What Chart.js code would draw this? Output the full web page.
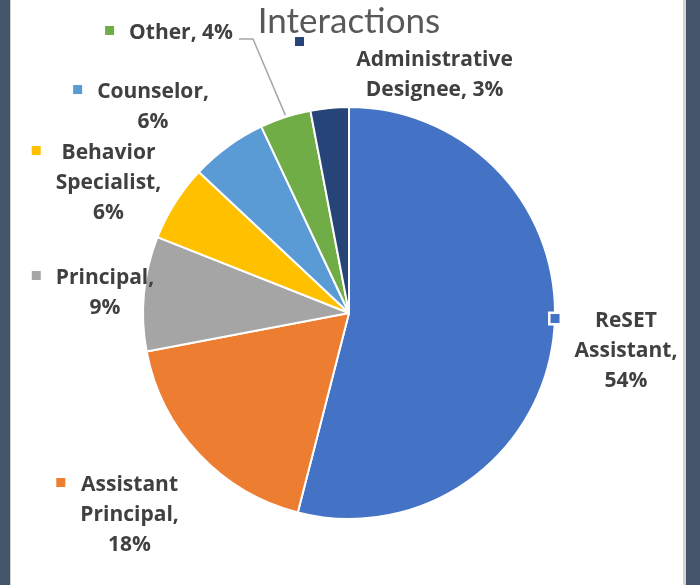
<!DOCTYPE html>
<html>
<head>
<meta charset="utf-8">
<script src="https://cdn.jsdelivr.net/npm/chart.js@4/dist/chart.umd.min.js"></script>
<style>
  html, body { margin: 0; padding: 0; background: #44546a; }
  #panel {
    position: absolute; left: 10px; top: 0; width: 676px; height: 585px;
    background: #ffffff;
    box-shadow: inset 1px 0 0 #d0d0d0, inset -3px 0 0 #d4d4d4;
  }
  canvas { display: block; }
</style>
</head>
<body>
<div id="panel"><canvas id="chart" width="676" height="585"></canvas></div>
<script>
// Who handled the interactions, as shares of the total
const categories = ['ReSET Assistant', 'Assistant Principal', 'Principal', 'Behavior Specialist', 'Counselor', 'Other', 'Administrative Designee'];
const shares = [54, 18, 9, 6, 6, 4, 3];
const sliceColors = ['#4472c4', '#ed7d31', '#a5a5a5', '#ffc000', '#5b9bd5', '#70ad47', '#264478'];

// How each category name wraps in its data label
const nameLines = [
  ['ReSET', 'Assistant'],
  ['Assistant', 'Principal'],
  ['Principal'],
  ['Behavior', 'Specialist'],
  ['Counselor'],
  ['Other'],
  ['Administrative', 'Designee']
];

// Label placement, relative to the outer edge of each slice at its mid angle
const labelPlacement = [
  { dx: 72.6,   dy: -11.8 },
  { dx: -69.3,  dy: 37 },
  { dx: -38.9,  dy: -9.6 },
  { dx: -66.6,  dy: -43.6 },
  { dx: -74.9,  dy: -48.3 },
  { dx: -104.3, dy: -78.1, inline: true, leader: true },
  { dx: 104.9,  dy: -41.9, inline: true, key: [-135, -24.5] }
];

const LABEL_FONT = 'bold 21px "Open Sans", "Liberation Sans", sans-serif';
const LABEL_COLOR = '#404040';
const LINE_STEP = 30;

function labelText(i) {
  const total = shares.reduce((a, b) => a + b, 0);
  const pct = Math.round(shares[i] / total * 100) + '%';
  const lines = nameLines[i].slice();
  lines[lines.length - 1] += ',';
  if (labelPlacement[i].inline) lines[lines.length - 1] += ' ' + pct;
  else lines.push(pct);
  return lines;
}

// Outside-end labels with a colour key, in the spreadsheet style
const sliceLabels = {
  id: 'sliceLabels',
  afterDatasetsDraw(chart) {
    const ctx = chart.ctx;
    const arcs = chart.getDatasetMeta(0).data;
    ctx.save();
    ctx.font = LABEL_FONT;
    ctx.textAlign = 'center';
    ctx.textBaseline = 'alphabetic';
    arcs.forEach((arc, i) => {
      const { x, y, startAngle, endAngle, outerRadius } = arc.getProps(['x', 'y', 'startAngle', 'endAngle', 'outerRadius'], true);
      const mid = (startAngle + endAngle) / 2;
      const ax = x + Math.cos(mid) * outerRadius;
      const ay = y + Math.sin(mid) * outerRadius;
      const p = labelPlacement[i];
      const cx = ax + p.dx;
      const by = ay + p.dy;
      const lines = labelText(i);

      let left = Infinity, right = -Infinity;
      lines.forEach((t, k) => {
        const w = ctx.measureText(t).width;
        left = Math.min(left, cx - w / 2);
        right = Math.max(right, cx + w / 2);
        ctx.fillStyle = LABEL_COLOR;
        ctx.fillText(t, cx, by + k * LINE_STEP);
      });

      // colour key
      let kx, ky;
      if (p.key) { kx = cx + p.key[0] - 4.5; ky = by + p.key[1] - 4.5; }
      else { kx = left - 15 - 9; ky = by - 13; }
      ctx.fillStyle = '#ffffff';
      ctx.fillRect(kx - 2.5, ky - 2.5, 14, 14);
      ctx.fillStyle = sliceColors[i];
      ctx.fillRect(kx, ky, 9, 9);

      // leader line back to the slice
      if (p.leader) {
        ctx.strokeStyle = '#a6a6a6';
        ctx.lineWidth = 1.5;
        ctx.beginPath();
        ctx.moveTo(right + 6, by);
        ctx.lineTo(right + 20, by);
        ctx.lineTo(ax, ay - 2);
        ctx.stroke();
      }
    });
    ctx.restore();
  }
};

new Chart(document.getElementById('chart'), {
  type: 'pie',
  data: {
    labels: categories,
    datasets: [{
      data: shares,
      backgroundColor: sliceColors,
      borderColor: '#ffffff',
      borderWidth: 2
    }]
  },
  options: {
    responsive: false,
    animation: false,
    devicePixelRatio: 1,
    layout: { padding: { left: 132, right: 130, top: 0, bottom: 65 } },
    plugins: {
      legend: { display: false },
      tooltip: { enabled: false },
      title: {
        display: true,
        text: 'Interactions',
        color: '#595959',
        font: { family: 'Lato, "Open Sans", sans-serif', size: 35, weight: 'normal', lineHeight: 1.2 },
        padding: { top: 1, bottom: 63 }
      }
    }
  },
  plugins: [sliceLabels]
});
</script>
</body>
</html>
